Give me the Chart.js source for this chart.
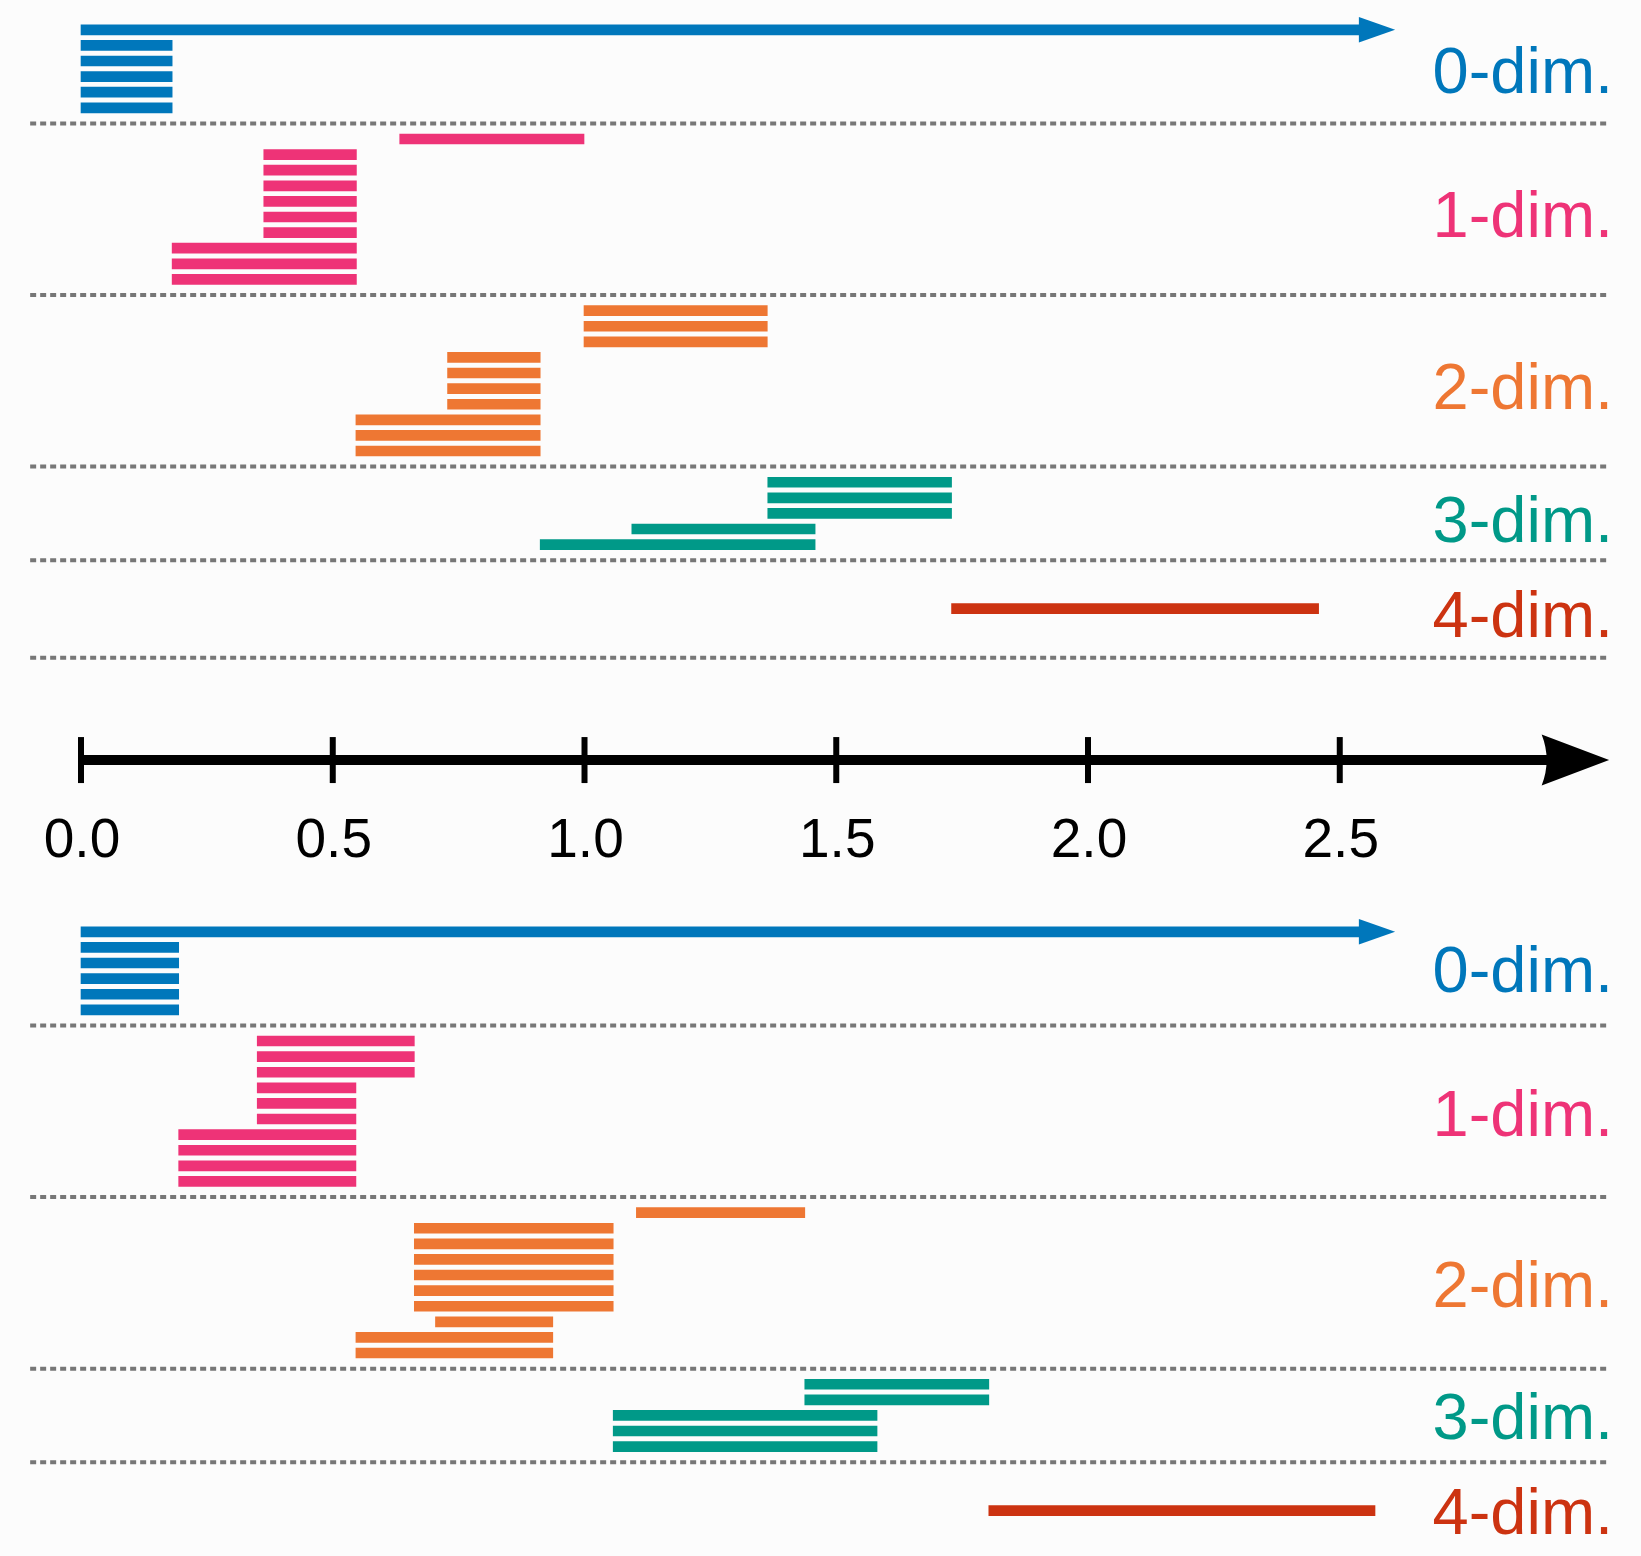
<!DOCTYPE html>
<html>
<head>
<meta charset="utf-8">
<script src="https://cdn.jsdelivr.net/npm/chart.js@4/dist/chart.umd.min.js"></script>
<style>
  html, body { margin: 0; padding: 0; background: #fcfcfc; }
  #wrap { width: 1641px; height: 1556px; }
</style>
</head>
<body>
<div id="wrap"><canvas id="barcode" width="1641" height="1556"></canvas></div>
<script>
// persistence barcodes, two panels sharing one filtration axis
const dimLabels = ["0-dim.", "1-dim.", "2-dim.", "3-dim.", "4-dim."];
const dimColors = ["#0077bb", "#ee3377", "#ee7733", "#009988", "#cc3311"];
const tickValues = [0, 0.5, 1.0, 1.5, 2.0, 2.5];
const tickLabels = ["0.0", "0.5", "1.0", "1.5", "2.0", "2.5"];

// top panel (birth / death per bar, listed top to bottom)
const top0Birth = [0, 0, 0, 0, 0, 0];
const top0Death = [Infinity, 0.181, 0.181, 0.181, 0.181, 0.181];
const top1Birth = [0.633, 0.363, 0.363, 0.363, 0.363, 0.363, 0.363, 0.181, 0.181, 0.181];
const top1Death = [0.999, 0.547, 0.547, 0.547, 0.547, 0.547, 0.547, 0.547, 0.547, 0.547];
const top2Birth = [0.999, 0.999, 0.999, 0.728, 0.728, 0.728, 0.728, 0.546, 0.546, 0.546];
const top2Death = [1.363, 1.363, 1.363, 0.912, 0.912, 0.912, 0.912, 0.912, 0.912, 0.912];
const top3Birth = [1.364, 1.364, 1.364, 1.094, 0.912];
const top3Death = [1.729, 1.729, 1.729, 1.458, 1.458];
const top4Birth = [1.729];
const top4Death = [2.458];

// bottom panel
const bot0Birth = [0, 0, 0, 0, 0, 0];
const bot0Death = [Infinity, 0.194, 0.194, 0.194, 0.194, 0.194];
const bot1Birth = [0.350, 0.350, 0.350, 0.350, 0.350, 0.350, 0.194, 0.194, 0.194, 0.194];
const bot1Death = [0.662, 0.662, 0.662, 0.546, 0.546, 0.546, 0.546, 0.546, 0.546, 0.546];
const bot2Birth = [1.103, 0.662, 0.662, 0.662, 0.662, 0.662, 0.662, 0.704, 0.546, 0.546];
const bot2Death = [1.4375, 1.057, 1.057, 1.057, 1.057, 1.057, 1.057, 0.937, 0.937, 0.937];
const bot3Birth = [1.4375, 1.4375, 1.057, 1.057, 1.057];
const bot3Death = [1.803, 1.803, 1.581, 1.581, 1.581];
const bot4Birth = [1.803];
const bot4Death = [2.570];

// layout (row units on the y scale, filtration units on the x scale)
const xMin = -0.1609, xMax = 3.0983;
const rowMin = -1.91, rowMax = 97.83;
const panelOffset = [0, 57.82];
const dimStartRow = [0, 7, 18, 29, 37.1];
const sepRows = [[6, 17, 28, 34, 40.25], [6, 17, 28, 34]];
const labelRows = [[4.07, 13.30, 24.31, 32.81, 38.90], [3.84, 13.09, 24.05, 32.53, 38.62]];
const axisRow = 46.81;
const infEnd = 2.540, infTip = 2.610;
const sepFrom = -0.101, sepTo = 3.037;
const axisTip = 3.035, axisHeadBack = 2.901;

const panels = [
  [[top0Birth, top0Death], [top1Birth, top1Death], [top2Birth, top2Death], [top3Birth, top3Death], [top4Birth, top4Death]],
  [[bot0Birth, bot0Death], [bot1Birth, bot1Death], [bot2Birth, bot2Death], [bot3Birth, bot3Death], [bot4Birth, bot4Death]]
];

const datasets = [];
panels.forEach((panel, p) => {
  panel.forEach(([births, deaths], d) => {
    datasets.push({
      type: "bar",
      indexAxis: "y",
      grouped: false,
      barThickness: 10,
      backgroundColor: dimColors[d],
      borderWidth: 0,
      data: births.map((b, i) => ({
        y: panelOffset[p] + dimStartRow[d] + i,
        x: [b, deaths[i] === Infinity ? infEnd : deaths[i]]
      }))
    });
  });
  sepRows[p].forEach(r => {
    datasets.push({
      type: "line",
      borderColor: "#777777",
      borderWidth: 4,
      borderDash: [6, 4],
      pointRadius: 0,
      data: [{ x: sepFrom, y: panelOffset[p] + r }, { x: sepTo, y: panelOffset[p] + r }]
    });
  });
});

const decorations = {
  id: "decorations",
  afterDatasetsDraw(chart) {
    const { ctx, scales: { x, y } } = chart;
    ctx.save();

    // arrow heads on the essential 0-dim bars
    panels.forEach((panel, p) => {
      panel[0][1].forEach((dv, i) => {
        if (dv !== Infinity) return;
        const py = y.getPixelForValue(panelOffset[p] + dimStartRow[0] + i);
        const bx = x.getPixelForValue(infEnd), tx = x.getPixelForValue(infTip);
        ctx.fillStyle = dimColors[0];
        ctx.beginPath();
        ctx.moveTo(bx - 1, py - 12.7);
        ctx.lineTo(tx, py);
        ctx.lineTo(bx - 1, py + 12.7);
        ctx.closePath();
        ctx.fill();
      });
    });

    // dimension labels
    ctx.font = '65px "Liberation Sans", Arial, sans-serif';
    ctx.textAlign = "right";
    ctx.textBaseline = "alphabetic";
    labelRows.forEach((rows, p) => {
      rows.forEach((r, d) => {
        ctx.fillStyle = dimColors[d];
        ctx.fillText(dimLabels[d], x.getPixelForValue(sepTo) + 3, y.getPixelForValue(panelOffset[p] + r));
      });
    });

    // filtration axis
    const ay = y.getPixelForValue(axisRow);
    const x0 = x.getPixelForValue(0);
    const back = x.getPixelForValue(axisHeadBack), tip = x.getPixelForValue(axisTip);
    ctx.strokeStyle = "#000";
    ctx.fillStyle = "#000";
    ctx.lineWidth = 10;
    ctx.beginPath();
    ctx.moveTo(x0 - 2, ay);
    ctx.lineTo(back + 8, ay);
    ctx.stroke();
    ctx.beginPath();
    ctx.moveTo(tip, ay);
    ctx.lineTo(back, ay - 25.5);
    ctx.quadraticCurveTo(back + 10, ay, back, ay + 25.5);
    ctx.closePath();
    ctx.fill();

    ctx.lineWidth = 6;
    ctx.font = '55px "Liberation Sans", Arial, sans-serif';
    ctx.textAlign = "center";
    tickValues.forEach((v, i) => {
      const tx = x.getPixelForValue(v);
      ctx.beginPath();
      ctx.moveTo(tx, ay - 23);
      ctx.lineTo(tx, ay + 23);
      ctx.stroke();
      ctx.fillText(tickLabels[i], tx + 1, ay + 96.7);
    });
    ctx.restore();
  }
};

new Chart(document.getElementById("barcode"), {
  type: "bar",
  data: { datasets },
  options: {
    responsive: false,
    animation: false,
    devicePixelRatio: 1,
    layout: { padding: 0, autoPadding: false },
    plugins: { legend: { display: false }, tooltip: { enabled: false } },
    scales: {
      x: { type: "linear", min: xMin, max: xMax, offset: false, display: false },
      y: { type: "linear", min: rowMin, max: rowMax, offset: false, reverse: true, display: false }
    }
  },
  plugins: [decorations]
});
</script>
</body>
</html>
